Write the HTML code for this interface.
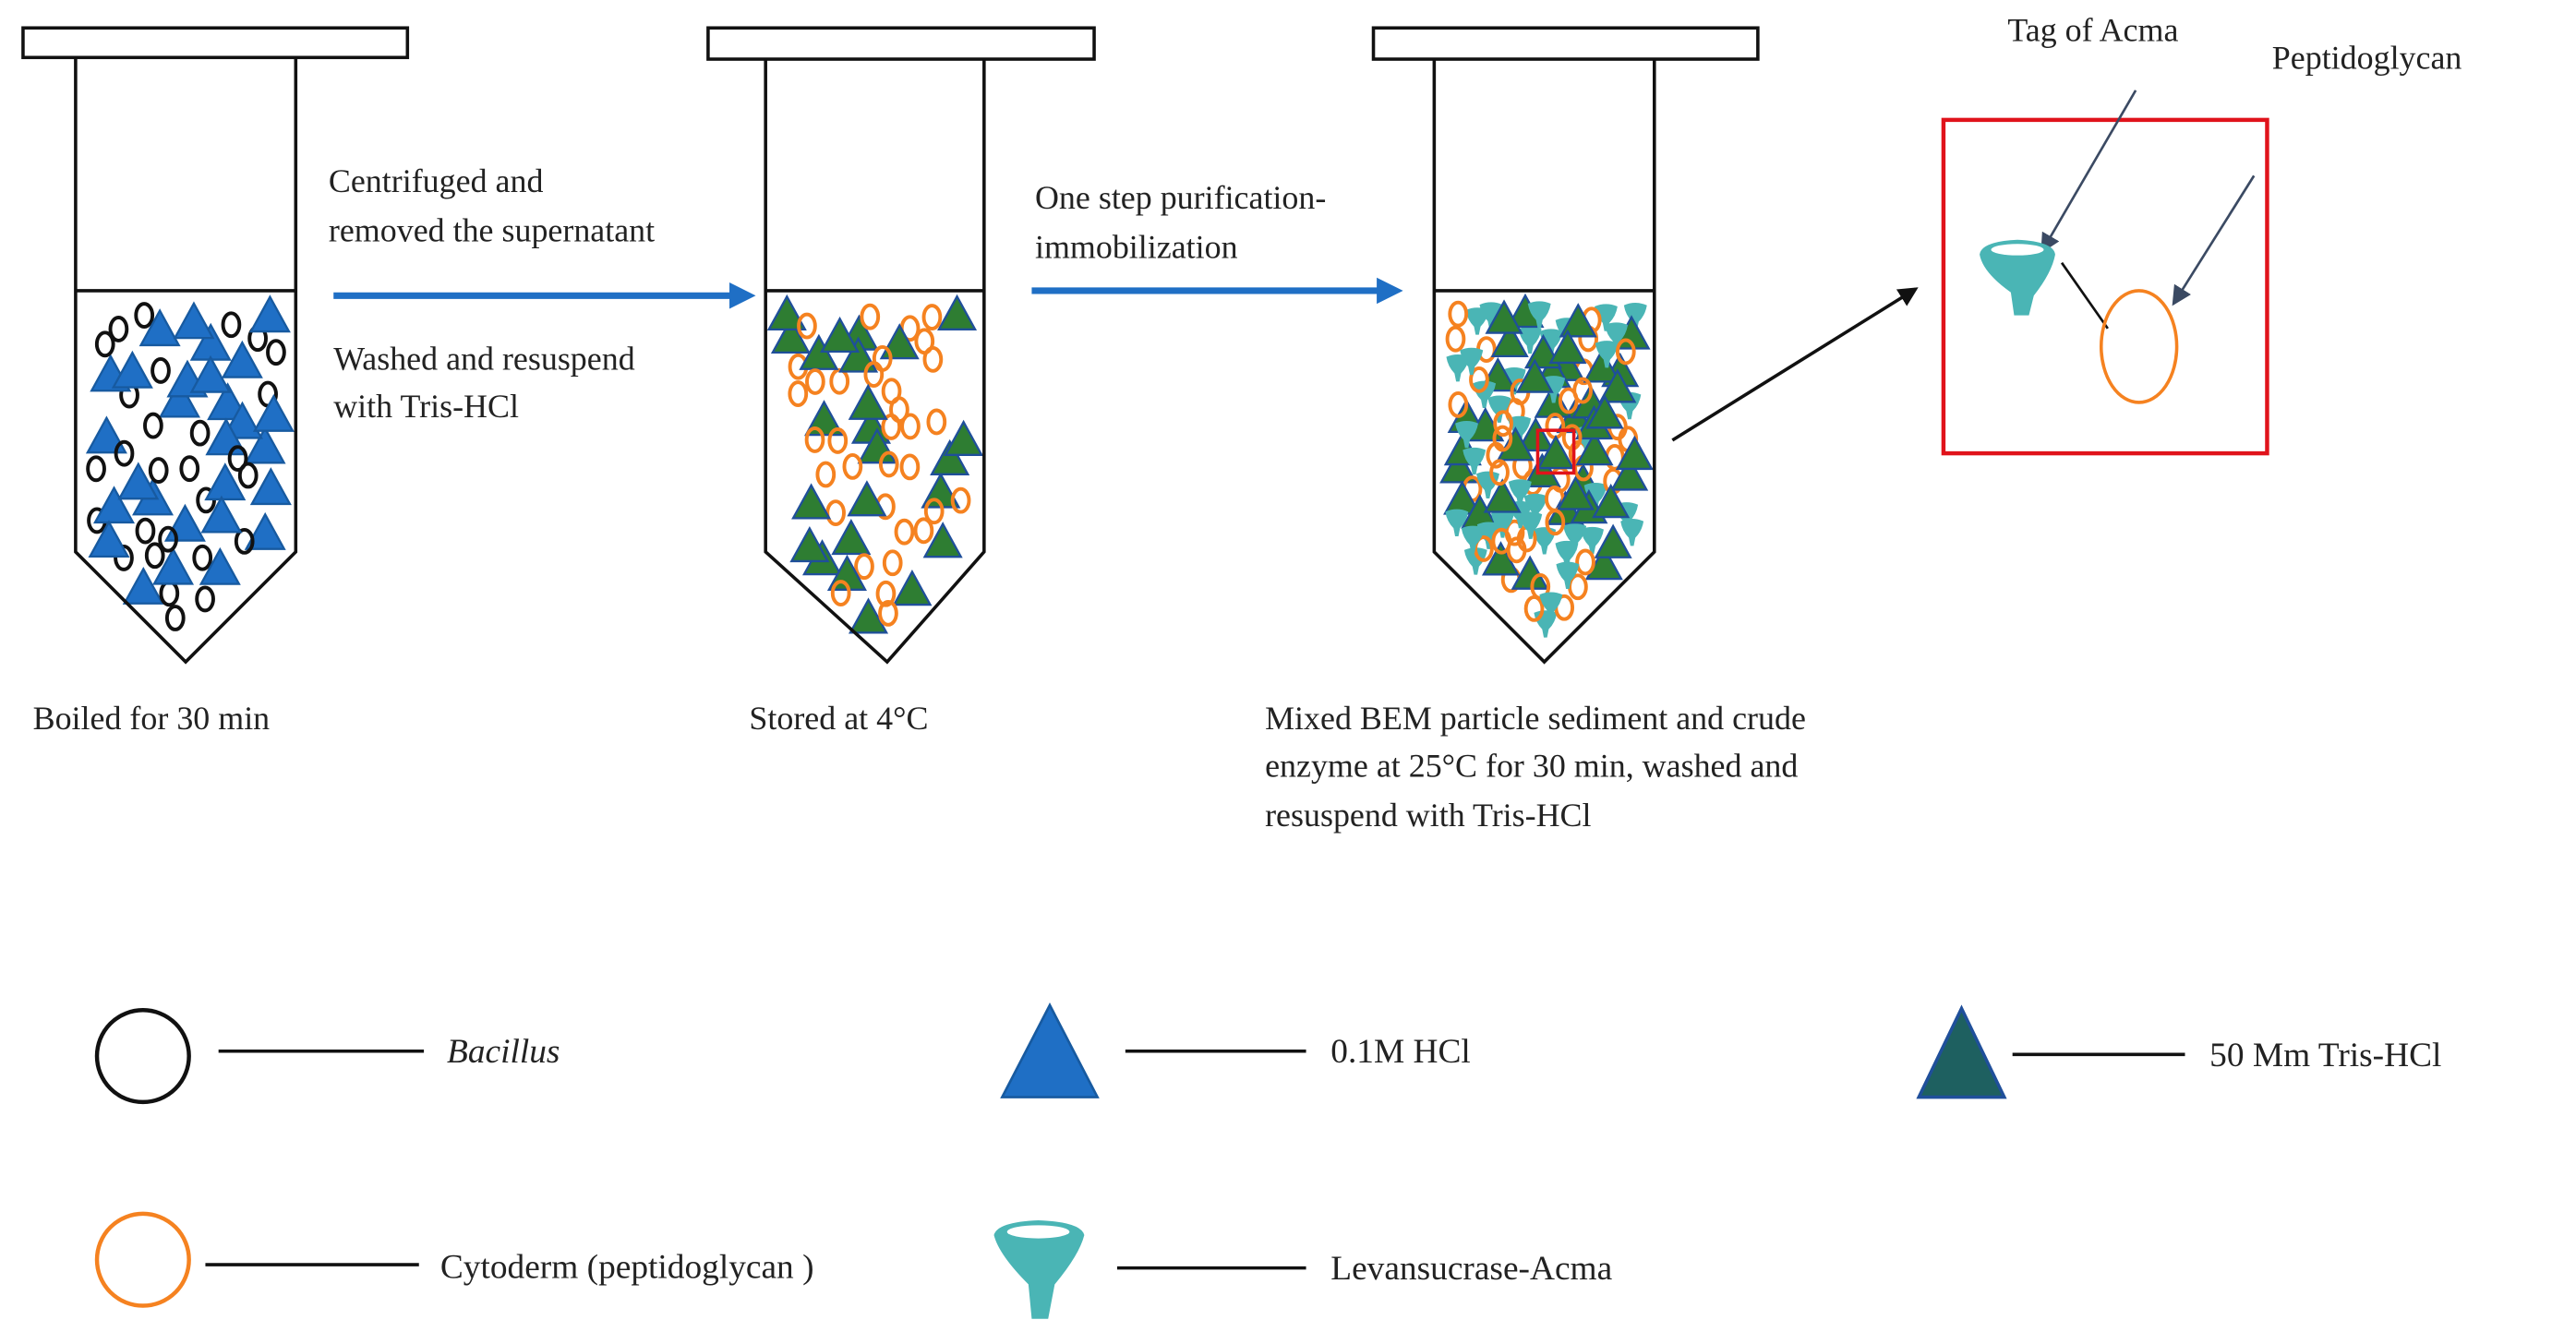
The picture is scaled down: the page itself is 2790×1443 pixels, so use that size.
<!DOCTYPE html>
<html><head><meta charset="utf-8"><style>
html,body{margin:0;padding:0;background:#fff}
svg{display:block}
text{font-family:"Liberation Serif",serif;fill:#222}
</style></head><body>
<svg id="s" xmlns="http://www.w3.org/2000/svg" width="2790" height="1443" viewBox="0 0 1568 811">
<defs>
<marker id="ab" markerWidth="4" markerHeight="4" refX="2" refY="2" orient="auto" markerUnits="strokeWidth"><path d="M0,0 L4,2 L0,4z" fill="#1f6fc5"/></marker>
<marker id="ak" markerWidth="6" markerHeight="6" refX="5" refY="3" orient="auto" markerUnits="strokeWidth"><path d="M0,0 L6,3 L0,6z" fill="#111"/></marker>
<marker id="ag" markerWidth="8" markerHeight="8" refX="7" refY="4" orient="auto" markerUnits="strokeWidth"><path d="M0,0 L8,4 L0,8z" fill="#3b4a63"/></marker>
</defs>
<g id="parts"></g>
<g id="tubes" fill="none" stroke="#111" stroke-width="2">
<rect x="14" y="17" width="234" height="18" fill="#fff"/>
<path d="M46,35 V336 L113,403 L180,336 V35" /><line x1="46" y1="177" x2="180" y2="177"/>
<rect x="431" y="17" width="235" height="19" fill="#fff"/>
<path d="M466,36 V336 L540,403 L599,336 V36"/><line x1="466" y1="177" x2="599" y2="177"/>
<rect x="836" y="17" width="234" height="19" fill="#fff"/>
<path d="M873,36 V336 L940,403 L1007,336 V36"/><line x1="873" y1="177" x2="1007" y2="177"/>
</g>
<line x1="203" y1="180" x2="452" y2="180" stroke="#1f6fc5" stroke-width="4" marker-end="url(#ab)"/>
<line x1="628" y1="177" x2="846" y2="177" stroke="#1f6fc5" stroke-width="4" marker-end="url(#ab)"/>
<line x1="1018" y1="268" x2="1166" y2="176" stroke="#111" stroke-width="2" marker-end="url(#ak)"/>
<g font-size="20.2">
<text x="200" y="117">Centrifuged and</text>
<text x="200" y="147">removed the supernatant</text>
<text x="203" y="225">Washed and resuspend</text>
<text x="203" y="254">with Tris-HCl</text>
<text x="630" y="127">One step purification-</text>
<text x="630" y="157">immobilization</text>
<text x="20" y="444">Boiled for 30 min</text>
<text x="456" y="444">Stored at 4°C</text>
<text x="770" y="444">Mixed BEM particle sediment and crude</text>
<text x="770" y="473">enzyme at 25°C for 30 min, washed and</text>
<text x="770" y="503">resuspend with Tris-HCl</text>
<text x="1222" y="25">Tag of Acma</text>
<text x="1383" y="42">Peptidoglycan</text>
</g>
<rect x="1183" y="73" width="197" height="203" fill="none" stroke="#e0131b" stroke-width="2.5"/>
<line x1="1300" y1="55" x2="1243" y2="153" stroke="#3b4a63" stroke-width="1.5" marker-end="url(#ag)"/>
<line x1="1372" y1="107" x2="1323" y2="185" stroke="#3b4a63" stroke-width="1.5" marker-end="url(#ag)"/>
<line x1="1255" y1="160" x2="1283" y2="200" stroke="#111" stroke-width="1.5"/>
<g id="bigfun" fill="#4ab5b5"><path d="M1205,155 Q1206,147 1228,146 Q1250,147 1251,155 Q1249,166 1238,180 L1235,192 L1226,192 L1224,178 Q1207,166 1205,155z"/><ellipse cx="1228" cy="152" rx="16" ry="3.5" fill="#fff"/></g>
<ellipse cx="1302" cy="211" rx="23" ry="34" fill="none" stroke="#f58220" stroke-width="2"/>
<circle cx="87" cy="643" r="28" fill="none" stroke="#111" stroke-width="2.5"/>
<line x1="133" y1="640" x2="258" y2="640" stroke="#111" stroke-width="2"/>
<text x="272" y="647" font-size="21" font-style="italic">Bacillus</text>
<path d="M639,612 L668,668 L610,668z" fill="#1f6fc5" stroke="#175aa0" stroke-width="1.5"/>
<line x1="685" y1="640" x2="795" y2="640" stroke="#111" stroke-width="2"/>
<text x="810" y="647" font-size="21">0.1M HCl</text>
<path d="M1194,614 L1220,668 L1168,668z" fill="#1e6060" stroke="#1f4f9a" stroke-width="2"/>
<line x1="1225" y1="642" x2="1330" y2="642" stroke="#111" stroke-width="2"/>
<text x="1345" y="649" font-size="21">50 Mm Tris-HCl</text>
<circle cx="87" cy="767" r="28" fill="none" stroke="#f58220" stroke-width="2.5"/>
<line x1="125" y1="770" x2="255" y2="770" stroke="#111" stroke-width="2"/>
<text x="268" y="778" font-size="21">Cytoderm (peptidoglycan )</text>
<g fill="#4ab5b5"><path d="M605,752 Q607,744 632,743 Q658,744 660,752 Q657,764 642,782 L638,803 L628,803 L626,782 Q608,764 605,752z"/><ellipse cx="632" cy="750" rx="19" ry="4" fill="#fff"/></g>
<line x1="680" y1="772" x2="795" y2="772" stroke="#111" stroke-width="2"/>
<text x="810" y="779" font-size="21">Levansucrase-Acma</text>
<rect x="936" y="262" width="22" height="26" fill="none" stroke="#e0131b" stroke-width="2"/>
</svg>
<script>
(function(){
var g=document.getElementById('parts'),h='';
var seed=11;function r(){seed=(seed*16807)%2147483647;return seed/2147483647;}
function inside(L,R,tip,x,y,e){if(y<190||y>tip.y-14)return false;if(y<=336-e)return x>L+e&&x<R-e;var f=(y-336)/(tip.y-336);if(f<0)f=0;var l=L+(tip.x-L)*f,rr=R-(R-tip.x)*f;return x>l+e*1.5&&x<rr-e*1.5;}
function pts(L,R,tip,n,m,e){var a=[],t=0;while(a.length<n&&t<40000){t++;var x=L+r()*(R-L),y=182+r()*(tip.y-182);if(!inside(L,R,tip,x,y,e))continue;var ok=true;for(var i=0;i<a.length;i++){var dx=a[i][0]-x,dy=a[i][1]-y;if(dx*dx+dy*dy<m*m*1.2){ok=false;break;}}if(ok)a.push([x,y]);}return a;}
function tri(x,y,s,fill,st){return '<path d="M'+x+','+(y-s*0.55)+' L'+(x+s*0.55)+','+(y+s*0.45)+' L'+(x-s*0.55)+','+(y+s*0.45)+'z" fill="'+fill+'" stroke="'+st+'" stroke-width="1.3"/>';}
function circ(x,y,c){return '<ellipse cx="'+x+'" cy="'+y+'" rx="5" ry="7" fill="none" stroke="'+c+'" stroke-width="2.2"/>';}
function fun(x,y){return '<path d="M'+(x-7)+','+(y-6)+' Q'+x+','+(y-9)+' '+(x+7)+','+(y-6)+' Q'+(x+6)+','+(y)+' '+(x+2)+','+(y+4)+' L'+(x+1)+','+(y+9)+' L'+(x-1)+','+(y+9)+' L'+(x-2)+','+(y+4)+' Q'+(x-6)+','+y+' '+(x-7)+','+(y-6)+'z" fill="#4ab5b5"/>';}
var p=pts(46,180,{x:113,y:403},56,11,12);
p.forEach(function(q,i){h+= i%2? tri(q[0],q[1],21,'#1f6fc5','#175aa0'):circ(q[0],q[1],'#111');});
p=pts(466,599,{x:540,y:403},58,10,12);
p.forEach(function(q,i){h+= i%5<2? tri(q[0],q[1],20,'#2e7d32','#1f4f9a'):circ(q[0],q[1],'#f58220');});
p=pts(873,1007,{x:940,y:403},125,7.5,11);
p.forEach(function(q,i){var k=i%3;h+= k==0? tri(q[0],q[1],19,'#2e7d32','#1f4f9a'):k==1?circ(q[0],q[1],'#f58220'):fun(q[0],q[1]);});
g.innerHTML=h;
})();
</script>
</body></html>
